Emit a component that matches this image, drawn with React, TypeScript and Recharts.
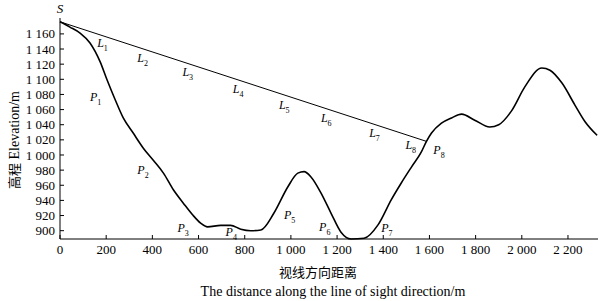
import React from 'react'
import { ComposedChart, Line, Scatter, XAxis, YAxis } from 'recharts'

// terrain profile along the line of sight
const distance = [0, 43, 87, 130, 174, 204, 239, 274, 317, 361, 404, 448, 491, 535, 574, 609, 639, 696, 739, 783, 826, 870, 926, 987, 1030, 1057, 1087, 1130, 1174, 1217, 1261, 1317, 1378, 1435, 1478, 1522, 1565, 1587, 1609, 1652, 1696, 1739, 1796, 1861, 1900, 1957, 2013, 2087, 2122, 2174, 2230, 2274, 2326]
const elevation = [1176, 1169, 1161, 1148, 1123, 1099, 1073, 1049, 1029, 1009, 993, 976, 954, 936, 921, 910, 905, 907, 907, 902, 900, 901, 923, 958, 976, 978, 971, 950, 923, 898, 889, 890, 908, 941, 963, 984, 1004, 1018, 1029, 1042, 1049, 1054, 1046, 1037, 1040, 1059, 1090, 1115, 1112, 1095, 1066, 1044, 1026]

// straight sight line from S to P8
const sightX = [0, 1587]
const sightY = [1176, 1018]

// point labels (S sits on the start of the sight line, drawn above it)
const labelMain = ['S', 'L', 'L', 'L', 'L', 'L', 'L', 'L', 'L', 'P', 'P', 'P', 'P', 'P', 'P', 'P', 'P']
const labelSub = ['', '1', '2', '3', '4', '5', '6', '7', '8', '1', '2', '3', '4', '5', '6', '7', '8']
const labelX = [0, 161, 335, 530, 748, 948, 1130, 1339, 1496, 130, 335, 509, 717, 970, 1122, 1391, 1617]
const labelY = [1176, 1148, 1128, 1110, 1088, 1066, 1049, 1029, 1013, 1077, 980, 904, 898, 921, 905, 904, 1007]

const xTicks = [0, 200, 400, 600, 800, 1000, 1200, 1400, 1600, 1800, 2000, 2200]
const yTicks = [900, 920, 940, 960, 980, 1000, 1020, 1040, 1060, 1080, 1100, 1120, 1140, 1160]

const terrain = distance.map((d, i) => ({ x: d, y: elevation[i] }))
const sight = sightX.map((d, i) => ({ x: d, y: sightY[i] }))
const labels = labelMain.map((m, i) => ({ x: labelX[i], y: labelY[i], main: m, sub: labelSub[i] }))

const fmt = (v: number) => v >= 1000 ? `${Math.floor(v / 1000)} ${String(v % 1000).padStart(3, '0')}` : String(v)
const serif = '"Liberation Serif", "DejaVu Serif", serif'

const XTick = (props: any) => {
  const { x, y, payload } = props
  return (
    <g>
      <line x1={x} x2={x} y1={y - 5} y2={y - 9} stroke="#000" strokeWidth={1} />
      <text x={x} y={y} dy="0.75em" textAnchor="middle" fontFamily={serif} fontSize={13} fill="#000">{fmt(payload.value)}</text>
    </g>
  )
}

const YTick = (props: any) => {
  const { x, y, payload } = props
  return (
    <g>
      <line x1={x + 5} x2={x + 9} y1={y} y2={y} stroke="#000" strokeWidth={1} />
      <text x={x} y={y} dy="0.35em" textAnchor="end" fontFamily={serif} fontSize={13} fill="#000">{fmt(payload.value)}</text>
    </g>
  )
}

const PointLabel = (props: any) => {
  const { cx, cy, payload } = props
  if (payload.main === 'S') {
    return <text x={cx} y={cy - 9} textAnchor="middle" fontFamily={serif} fontStyle="italic" fontSize={13} fill="#000">S</text>
  }
  return (
    <text x={cx} y={cy} dy="0.35em" fontFamily={serif} fontStyle="italic" fontSize={12} fill="#000">
      {payload.main}
      {payload.sub && <tspan dy={4} fontSize={8} fontStyle="normal">{payload.sub}</tspan>}
    </text>
  )
}

export default function App() {
  return (
    <div style={{ position: 'absolute', left: 0, top: 0, width: 605, height: 301, background: '#fff' }}>
      <ComposedChart width={605} height={301} margin={{ top: 18, right: 7, left: 0, bottom: 0 }} style={{ overflow: 'visible' }}>
        <XAxis type="number" dataKey="x" domain={[0, 2330]} ticks={xTicks} height={62}
          axisLine={{ stroke: '#000' }} tickLine={false} tickSize={0} tickMargin={5} tick={<XTick />} interval={0} />
        <YAxis type="number" dataKey="y" domain={[889, 1181]} ticks={yTicks} width={60}
          axisLine={{ stroke: '#000' }} tickLine={false} tickSize={0} tickMargin={5} tick={<YTick />} interval={0} />
        <Line data={sight} dataKey="y" type="linear" stroke="#000" strokeWidth={1} dot={false} isAnimationActive={false} />
        <Line data={terrain} dataKey="y" type="monotone" stroke="#000" strokeWidth={1.6} dot={false} isAnimationActive={false} />
        <Scatter data={labels} dataKey="y" shape={<PointLabel />} isAnimationActive={false} />
      </ComposedChart>
      <div style={{ position: 'absolute', left: 13, top: 140, transform: 'translate(-50%, -50%) rotate(-90deg)', whiteSpace: 'nowrap', fontSize: 14, fontFamily: serif }}>
        <span style={{ fontFamily: '"Noto Sans CJK SC"', fontSize: 13 }}>高程</span> Elevation/m
      </div>
      <div style={{ position: 'absolute', left: 318, top: 272, transform: 'translate(-50%, -50%)', whiteSpace: 'nowrap', fontSize: 13, lineHeight: '16px', fontFamily: '"Noto Sans CJK SC"' }}>
        视线方向距离
      </div>
      <div style={{ position: 'absolute', left: 333, top: 292, transform: 'translate(-50%, -50%)', whiteSpace: 'nowrap', fontSize: 14, lineHeight: '16px', fontFamily: serif }}>
        The distance along the line of sight direction/m
      </div>
    </div>
  )
}
